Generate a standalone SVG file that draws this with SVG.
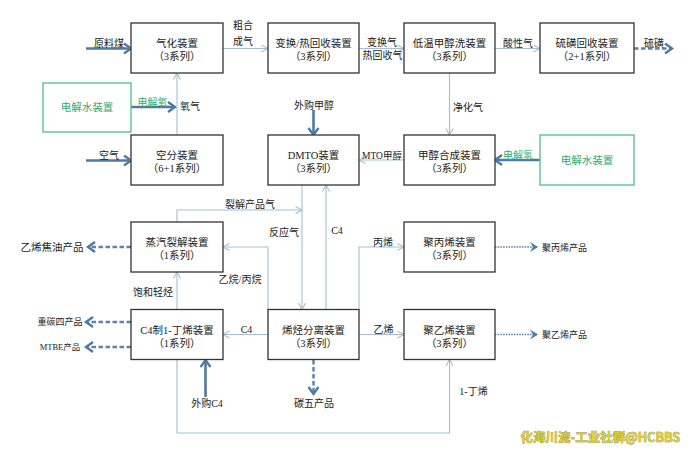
<svg xmlns="http://www.w3.org/2000/svg" width="690" height="454" viewBox="0 0 690 454">
<defs>
<style>
.box{fill:#fff;stroke:#333;stroke-width:1.3}
.gbox{fill:#fff;stroke:#4fbf8a;stroke-width:1.3}
.bt{font-family:"Liberation Serif","Noto Sans CJK SC",serif;font-size:10.5px;fill:#222;text-anchor:middle}
.gt{font-family:"Liberation Serif","Noto Sans CJK SC",serif;font-size:10.5px;fill:#2eac6c;text-anchor:middle}
.lb{font-family:"Liberation Serif","Noto Sans CJK SC",serif;font-size:10px;fill:#222;text-anchor:middle}
.lg{font-family:"Liberation Serif","Noto Sans CJK SC",serif;font-size:10px;fill:#2eac6c;text-anchor:middle}
.sm{font-family:"Liberation Serif","Noto Sans CJK SC",serif;font-size:9px;fill:#222}
.thin{fill:none;stroke:#a3c0d2;stroke-width:1.1;marker-end:url(#mThin)}
.thick{fill:none;stroke:#4f7aa3;stroke-width:2.6;marker-end:url(#mThick)}
.dash{fill:none;stroke:#5a82ab;stroke-width:2.4;stroke-dasharray:4.5 2.5;marker-end:url(#mThick)}
.dot{fill:none;stroke:#5a7fa6;stroke-width:1.6;stroke-dasharray:1.5 1.2;marker-end:url(#mDot)}
.wm{font-family:"Noto Sans CJK SC","Liberation Sans",sans-serif;font-size:12.5px;font-weight:bold;fill:#d9d030;stroke:#6a6822;stroke-width:0.5;paint-order:stroke;text-anchor:end}
</style>
<marker id="mThin" markerUnits="userSpaceOnUse" markerWidth="10" markerHeight="10" refX="7" refY="4" orient="auto">
<path d="M0.5,0.5 L7,4 L0.5,7.5" fill="none" stroke="#a3c0d2" stroke-width="1.1"/>
</marker>
<marker id="mThick" markerUnits="userSpaceOnUse" markerWidth="12" markerHeight="14" refX="8" refY="6" orient="auto">
<path d="M1,1 L8,6 L1,11" fill="none" stroke="#4f7aa3" stroke-width="2.4"/>
</marker>
<marker id="mDot" markerUnits="userSpaceOnUse" markerWidth="12" markerHeight="12" refX="8" refY="5" orient="auto">
<path d="M0,0 L8,5 L0,10 L3,5 Z" fill="#4f7aa3"/>
</marker>
</defs>
<rect width="690" height="454" fill="#fff"/>

<g id="connectors">
<line class="thick" x1="86" y1="48.5" x2="131" y2="48.5"/>
<line class="thin" x1="223" y1="48.5" x2="268" y2="48.5"/>
<line class="thin" x1="359" y1="48.5" x2="404" y2="48.5"/>
<line class="thin" x1="495" y1="48.5" x2="540" y2="48.5"/>
<line class="dash" x1="634" y1="48.5" x2="672" y2="48.5"/>
<line class="thick" x1="131" y1="107" x2="175" y2="107"/>
<line class="thin" x1="177" y1="135" x2="177" y2="73"/>
<line class="thick" x1="86" y1="160.5" x2="131" y2="160.5"/>
<line class="thin" x1="449.5" y1="73" x2="449.5" y2="135"/>
<line class="thick" x1="313.5" y1="110" x2="313.5" y2="135"/>
<line class="thin" x1="404" y1="160" x2="359" y2="160"/>
<line class="thick" x1="540" y1="160" x2="495" y2="160"/>
<polyline class="thin" points="177,222 177,210 302,210"/>
<line class="thin" x1="302" y1="185" x2="302" y2="309.5"/>
<line class="thin" x1="326" y1="309.5" x2="326" y2="185"/>
<polyline class="thin" points="268,309.5 268,247 223,247"/>
<polyline class="thin" points="359,309.5 359,247 404,247"/>
<line class="thin" x1="177" y1="309.5" x2="177" y2="272"/>
<line class="thin" x1="268" y1="334.5" x2="223" y2="334.5"/>
<line class="thin" x1="359" y1="334.5" x2="404" y2="334.5"/>
<line class="dash" x1="313.5" y1="360" x2="313.5" y2="394"/>
<polyline class="thin" points="177,359.5 177,433 449.5,433 449.5,359.5"/>
<line class="thick" x1="205.5" y1="397" x2="205.5" y2="360"/>
<line class="dash" x1="131" y1="247" x2="88" y2="247"/>
<line class="dash" x1="131" y1="322" x2="86" y2="322"/>
<line class="dash" x1="131" y1="347" x2="86" y2="347"/>
<line class="dot" x1="495" y1="247" x2="538" y2="247"/>
<line class="dot" x1="495" y1="334.5" x2="538" y2="334.5"/>
</g>

<g id="labels">
<text class="lb" x="109" y="47">原料煤</text>
<text class="lb" x="243" y="28.5">粗合</text>
<text class="lb" x="243" y="44.5">成气</text>
<text class="lb" x="382" y="45.5">变换气</text>
<text class="lb" x="382.5" y="58.5">热回收气</text>
<text class="lb" x="518" y="46.5">酸性气</text>
<text class="lb" x="654" y="46.5">硫磺</text>
<text class="lg" x="152.5" y="105.5">电解氧</text>
<text class="lb" x="190" y="109.5">氧气</text>
<text class="lb" x="109" y="158.5">空气</text>
<text class="lb" x="468" y="110.5">净化气</text>
<text class="lb" x="314" y="108.5">外购甲醇</text>
<text class="lb" x="382" y="158.5" style="font-size:9.5px">MTO甲醇</text>
<text class="lg" x="518" y="158.5">电解氢</text>
<text class="lb" x="250" y="207.5">裂解产品气</text>
<text class="lb" x="284" y="235.5">反应气</text>
<text class="lb" x="337" y="233.5">C4</text>
<text class="lb" x="240" y="282.5">乙烷/丙烷</text>
<text class="lb" x="383" y="245.5">丙烯</text>
<text class="lb" x="153" y="295.5">饱和轻烃</text>
<text class="lb" x="246.5" y="332.5">C4</text>
<text class="lb" x="383.5" y="332.5">乙烯</text>
<text class="lb" x="314" y="406.5">碳五产品</text>
<text class="lb" x="207" y="406.5">外购C4</text>
<text class="lb" x="473.5" y="394.5">1-丁烯</text>
<text class="lb" x="52" y="250.5" style="font-size:10.5px">乙烯焦油产品</text>
<text class="sm" x="60" y="325" text-anchor="middle">重碳四产品</text>
<text class="sm" x="60" y="350" text-anchor="middle" style="font-size:8.5px">MTBE产品</text>
<text class="sm" x="542" y="251">聚丙烯产品</text>
<text class="sm" x="542" y="338">聚乙烯产品</text>
<text class="wm" x="680" y="442">化海川流-工业社群@HCBBS</text>
</g>

<g id="n-gasify"><rect class="box" x="131" y="23" width="92" height="50"/><text class="bt" x="177" y="47">气化装置</text><text class="bt" x="177" y="60">（3系列）</text></g>
<g id="n-shift"><rect class="box" x="268" y="23" width="91" height="50"/><text class="bt" x="313.5" y="47">变换/热回收装置</text><text class="bt" x="313.5" y="60">（3系列）</text></g>
<g id="n-rectisol"><rect class="box" x="404" y="23" width="91" height="50"/><text class="bt" x="449.5" y="47">低温甲醇洗装置</text><text class="bt" x="449.5" y="60">（3系列）</text></g>
<g id="n-sulfur"><rect class="box" x="540" y="23" width="94" height="50"/><text class="bt" x="587" y="47">硫磺回收装置</text><text class="bt" x="587" y="60">（2+1系列）</text></g>
<g id="n-elec-left"><rect class="gbox" x="43" y="83" width="88" height="49"/><text class="gt" x="87" y="111">电解水装置</text></g>
<g id="n-asu"><rect class="box" x="131" y="135" width="92" height="50"/><text class="bt" x="177" y="159">空分装置</text><text class="bt" x="177" y="172">（6+1系列）</text></g>
<g id="n-dmto"><rect class="box" x="268" y="135" width="91" height="50"/><text class="bt" x="313.5" y="159">DMTO装置</text><text class="bt" x="313.5" y="172">（3系列）</text></g>
<g id="n-methanol"><rect class="box" x="404" y="135" width="91" height="50"/><text class="bt" x="449.5" y="159">甲醇合成装置</text><text class="bt" x="449.5" y="172">（3系列）</text></g>
<g id="n-elec-right"><rect class="gbox" x="540" y="135" width="94" height="50"/><text class="gt" x="587" y="164">电解水装置</text></g>
<g id="n-cracker"><rect class="box" x="131" y="222" width="92" height="50"/><text class="bt" x="177" y="246">蒸汽裂解装置</text><text class="bt" x="177" y="259">（1系列）</text></g>
<g id="n-pp"><rect class="box" x="404" y="222" width="91" height="50"/><text class="bt" x="449.5" y="246">聚丙烯装置</text><text class="bt" x="449.5" y="259">（3系列）</text></g>
<g id="n-butene"><rect class="box" x="131" y="309.5" width="92" height="50"/><text class="bt" x="177" y="333.5">C4制1-丁烯装置</text><text class="bt" x="177" y="346.5">（1系列）</text></g>
<g id="n-olefin"><rect class="box" x="268" y="309.5" width="91" height="50"/><text class="bt" x="313.5" y="333.5">烯烃分离装置</text><text class="bt" x="313.5" y="346.5">（3系列）</text></g>
<g id="n-pe"><rect class="box" x="404" y="309.5" width="91" height="50"/><text class="bt" x="449.5" y="333.5">聚乙烯装置</text><text class="bt" x="449.5" y="346.5">（3系列）</text></g>
</svg>
